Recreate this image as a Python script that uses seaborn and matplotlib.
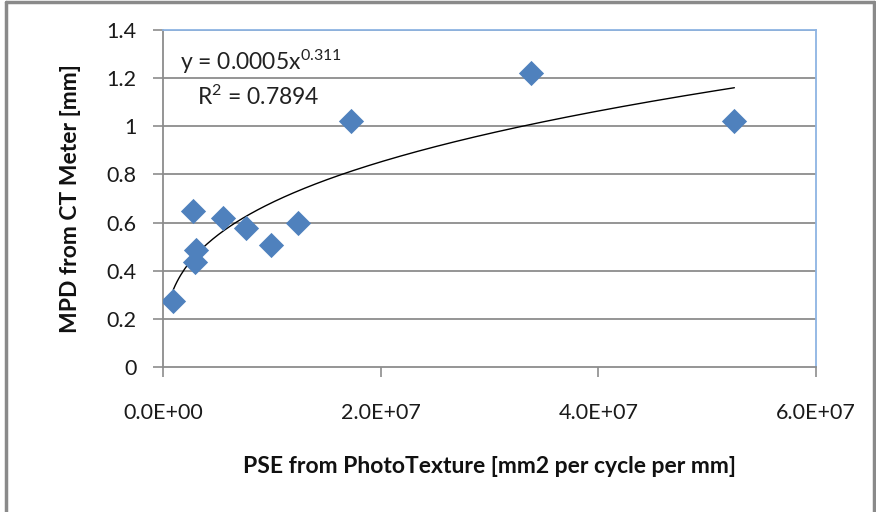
import numpy as np
import pandas as pd
import matplotlib
matplotlib.use("Agg")
import matplotlib.pyplot as plt
from matplotlib.lines import Line2D
from matplotlib.ticker import FuncFormatter
import seaborn as sns

# Data
pse = [0.95e6, 2.78e6, 3.03e6, 2.94e6, 5.53e6, 7.61e6, 9.88e6, 12.36e6, 17.25e6, 33.85e6, 52.5e6]
mpd = [0.275, 0.647, 0.488, 0.435, 0.62, 0.578, 0.508, 0.599, 1.02, 1.22, 1.02]
x_ticks = [0, 2e7, 4e7, 6e7]
y_ticks = [0, 0.2, 0.4, 0.6, 0.8, 1.0, 1.2, 1.4]
eq_text = "y = 0.0005x$^{0.311}$"
r2_text = "R$^2$ = 0.7894"
x_label = "PSE from PhotoTexture [mm2 per cycle per mm]"
y_label = "MPD from CT Meter [mm]"

df = pd.DataFrame({"pse": pse, "mpd": mpd})

sns.set_theme(style="white")
plt.rcParams["font.family"] = ["Lato", "DejaVu Sans"]
plt.rcParams["mathtext.fontset"] = "custom"
plt.rcParams["mathtext.rm"] = "Lato"
plt.rcParams["mathtext.it"] = "Lato"

fig = plt.figure(figsize=(8.76, 5.12), dpi=100)
ax = fig.add_axes([163 / 876, 1 - 367 / 512, (816 - 163) / 876, (367 - 30) / 512])

# power trendline (least squares in log-log space, as Excel does)
b, loga = np.polyfit(np.log(df["pse"]), np.log(df["mpd"]), 1)
xs = np.linspace(df["pse"].min(), df["pse"].max(), 300)
trend = pd.DataFrame({"x": xs, "y": np.exp(loga) * xs ** b})

for yt in y_ticks[1:]:
    ax.axhline(yt, color="#8c8c8c", lw=1.3, zorder=0)

sns.lineplot(data=trend, x="x", y="y", ax=ax, color="black", lw=1.0, zorder=2)
sns.scatterplot(data=df, x="pse", y="mpd", ax=ax, marker="D", s=165,
                color="#4f81bd", edgecolor="#4f81bd", linewidth=0, zorder=3)

ax.set_xlim(0, 6e7)
ax.set_ylim(0, 1.4)
ax.set_xticks(x_ticks)
ax.set_yticks(y_ticks)
ax.xaxis.set_major_formatter(FuncFormatter(lambda v, p: f"{v:.1E}"))
ax.yaxis.set_major_formatter(FuncFormatter(lambda v, p: f"{v:g}"))
ax.tick_params(axis="both", labelsize=15.5, colors="#8c8c8c", length=7, width=1.2,
               direction="out", left=True, bottom=True)
ax.tick_params(axis="y", pad=12)
ax.tick_params(axis="x", pad=19)
for lab in ax.get_xticklabels() + ax.get_yticklabels():
    lab.set_color("#1a1a1a")

for s in ["left", "bottom"]:
    ax.spines[s].set_color("#8c8c8c")
    ax.spines[s].set_linewidth(1.3)
for s in ["top", "right"]:
    ax.spines[s].set_color("#8eb4e3")
    ax.spines[s].set_linewidth(1.3)

ax.set_xlabel(x_label, fontsize=16.5, fontweight="bold", labelpad=24, color="#111111")
ax.set_ylabel(y_label, fontsize=16.5, fontweight="bold", labelpad=18, color="#111111")

ax.text(180 / 876, 1 - 62 / 512, eq_text, transform=fig.transFigure, fontsize=16.5,
        va="center", ha="left", color="#222222")
ax.text(197 / 876, 1 - 97 / 512, r2_text, transform=fig.transFigure, fontsize=16.5,
        va="center", ha="left", color="#222222")

# outer chart frame (left, top, right)
frame_c = "#8a8a8a"
fig.add_artist(Line2D([6 / 876, 6 / 876], [0, 1 - 2 / 512], transform=fig.transFigure, color=frame_c, lw=2.5))
fig.add_artist(Line2D([6 / 876, 874 / 876], [1 - 2 / 512, 1 - 2 / 512], transform=fig.transFigure, color=frame_c, lw=2.5))
fig.add_artist(Line2D([874 / 876, 874 / 876], [0, 1 - 2 / 512], transform=fig.transFigure, color=frame_c, lw=2.5))

fig.savefig("out.png", dpi=100)
